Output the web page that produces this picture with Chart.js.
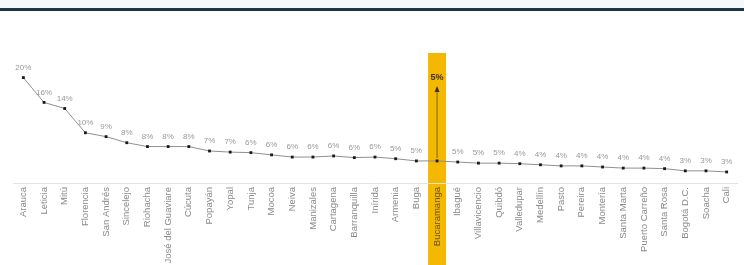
<!DOCTYPE html>
<html>
<head>
<meta charset="utf-8">
<script src="https://cdn.jsdelivr.net/npm/chart.js@4"></script>
<style>
  html, body { margin: 0; padding: 0; background: #fff; }
  #wrap { position: relative; width: 744px; height: 265px; overflow: hidden; }
  #topband { position: absolute; left: 0; top: 0; width: 744px; height: 8px; background: #f4f8fb; border-bottom: 3px solid #1f3447; }
</style>
</head>
<body>
<div id="wrap">
  <canvas id="container" width="744" height="265"></canvas>
  <div id="topband"></div>
</div>
<script>
const cities = [
    "Arauca", "Leticia", "Mitú", "Florencia", "San Andrés", "Sincelejo", "Riohacha",
    "San José del Guaviare", "Cúcuta", "Popayán", "Yopal", "Tunja", "Mocoa", "Neiva",
    "Manizales", "Cartagena", "Barranquilla", "Inírida", "Armenia", "Buga",
    "Bucaramanga", "Ibagué", "Villavicencio", "Quibdó", "Valledupar", "Medellín",
    "Pasto", "Pereira", "Montería", "Santa Marta", "Puerto Carreño", "Santa Rosa",
    "Bogotá D.C.", "Soacha", "Cali"
]
const share = [
    20.0, 15.5, 14.4, 10.0, 9.3, 8.2, 7.5, 7.5, 7.5, 6.7, 6.5, 6.4, 6.0, 5.6, 5.6,
    5.8, 5.5, 5.6, 5.3, 4.9, 4.9, 4.7, 4.5, 4.5, 4.4, 4.2, 4.0, 4.0, 3.8, 3.6,
    3.6, 3.5, 3.1, 3.1, 2.9
]
const highlight = "Bucaramanga"
const hi = cities.indexOf(highlight)

const fmt = v => Math.round(v) + "%"

const labelsPlugin = {
    id: "pointLabels",
    // band goes under the axis labels too
    beforeDraw(chart) {
        const ctx = chart.ctx
        const x = chart.scales.x.getPixelForValue(hi)
        ctx.save()
        ctx.fillStyle = "#f5b800"
        ctx.fillRect(x - 9, 53, 18, chart.height - 53)
        ctx.restore()
    },
    afterDatasetsDraw(chart) {
        const ctx = chart.ctx
        const meta = chart.getDatasetMeta(0)
        ctx.save()
        ctx.textAlign = "center"
        ctx.textBaseline = "bottom"
        ctx.font = "8px 'Liberation Sans'"
        ctx.fillStyle = "#999"
        meta.data.forEach((pt, i) => {
            if (i === hi) return
            ctx.fillText(fmt(share[i]), pt.x, pt.y - 6)
        })
        // highlighted point: arrow up to a bold label
        const p = meta.data[hi]
        ctx.strokeStyle = "#7a6420"
        ctx.lineWidth = 1
        ctx.beginPath()
        ctx.moveTo(p.x, p.y - 3)
        ctx.lineTo(p.x, 90)
        ctx.stroke()
        ctx.fillStyle = "#3a3320"
        ctx.beginPath()
        ctx.moveTo(p.x, 86)
        ctx.lineTo(p.x - 2.5, 92)
        ctx.lineTo(p.x + 2.5, 92)
        ctx.closePath()
        ctx.fill()
        ctx.font = "bold 9px 'Liberation Sans'"
        ctx.fillText(fmt(share[hi]), p.x, 82)
        ctx.restore()
    }
}

const lineChart = new Chart(document.getElementById('container'), {
    type: "line",
    data: {
        labels: cities,
        datasets: [
            {
                label: "share",
                data: share,
                fill: false,
                borderColor: "#8f8f8f",
                borderWidth: 1,
                tension: 0,
                pointRadius: 2,
                pointStyle: "rect",
                pointBackgroundColor: "#1a1a1a",
                pointBorderColor: "#1a1a1a",
                pointBorderWidth: 0
            }
        ]
    },
    options: {
        animation: false,
        responsive: false,
        layout: { padding: { left: 13, right: 7, top: 50, bottom: 0 } },
        plugins: {
            legend: { display: false },
            tooltip: { enabled: false }
        },
        scales: {
            x: {
                offset: true,
                grid: { display: false, drawTicks: false },
                border: { display: true, color: "#e2e2e2", width: 1 },
                ticks: {
                    autoSkip: false,
                    minRotation: 90,
                    maxRotation: 90,
                    padding: 4,
                    color: (c) => c.index === hi ? "#6b5310" : "#8a8a8a",
                    font: { family: "Liberation Sans", size: 9.5 }
                },
                afterFit(scale) { scale.height = 82 }
            },
            y: {
                display: false,
                min: 0.9,
                max: 25
            }
        }
    },
    plugins: [labelsPlugin]
});
</script>
</body>
</html>
